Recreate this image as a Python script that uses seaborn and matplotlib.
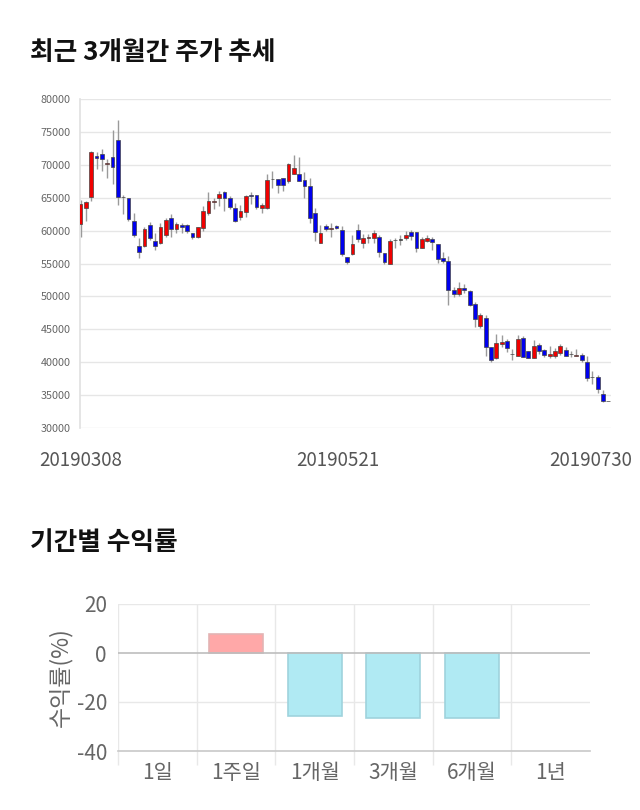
import numpy as np
import pandas as pd
import matplotlib
matplotlib.use("Agg")
import matplotlib.pyplot as plt
from matplotlib.ticker import FixedLocator
from matplotlib.transforms import ScaledTranslation
import seaborn as sns

# ---------------- data ----------------
dates_labels = ["20190308", "20190521", "20190730"]
label_idx = [0, 49, 99]

opens = [61000, 63500, 65100, 71400, 71700, 70100, 71200, 73700, 65100, 64900,
         61400, 57700, 57700, 60800, 58400, 58100, 59400, 61900, 60300, 60800,
         60800, 59700, 59000, 60400, 62700, 64300, 65000, 65800, 65000, 63400,
         62000, 62900, 65450, 65450, 63400, 63400, 67800, 67900, 68000, 67550,
         68600, 68600, 67750, 66850, 62650, 58150, 60700, 60250, 60700, 60150,
         55950, 56450, 60050, 58150, 58800, 58900, 59000, 56650, 55000, 58500,
         58600, 58900, 59850, 59750, 57300, 58450, 58750, 57900, 55800, 55400,
         51000, 50350, 51250, 50850, 48800, 45500, 46750, 42300, 40600, 42750,
         43200, 41300, 41000, 43700, 41750, 40650, 42550, 41850, 41000, 41000,
         41450, 41850, 41250, 41000, 41150, 40000, 37700, 37800, 35150, 34100]
highs = [64700, 64500, 72100, 71950, 72350, 70900, 75250, 76800, 65400, 65000,
         62750, 58850, 60600, 61250, 59600, 61100, 61850, 62550, 61250, 61100,
         61000, 59700, 60600, 63750, 65850, 64950, 65950, 65950, 65200, 64200,
         63950, 65450, 65900, 65450, 64200, 68600, 69050, 67900, 68000, 70300,
         71450, 71250, 68900, 68000, 63450, 60900, 61000, 61100, 60900, 60700,
         55950, 59350, 61000, 59500, 59500, 60100, 59300, 56650, 58700, 58900,
         59300, 60000, 60100, 59750, 59050, 59300, 59050, 58000, 56800, 56200,
         51500, 52200, 51950, 51000, 49200, 47550, 47150, 42300, 44250, 44150,
         43450, 42050, 44100, 43950, 41750, 43350, 42850, 42050, 42450, 42150,
         42750, 42300, 41650, 42000, 41450, 40900, 38600, 38000, 35800, 34100]
lows = [59000, 61400, 64450, 69400, 69000, 68000, 67150, 63900, 62500, 61500,
        59100, 55900, 57550, 58550, 57050, 57950, 59100, 59100, 59700, 59700,
        59600, 58700, 58850, 60000, 62400, 63250, 63800, 63050, 63250, 61250,
        61650, 62050, 64100, 63350, 62750, 63250, 66500, 65700, 65950, 67250,
        68600, 67500, 64950, 61100, 58450, 58150, 60000, 59100, 60300, 56100,
        54850, 56300, 58300, 57400, 58050, 58150, 56000, 54900, 55000, 57350,
        57800, 58550, 58550, 56800, 57300, 58200, 57000, 55150, 55150, 48700,
        49950, 50050, 50550, 48550, 45400, 45250, 41000, 40050, 40500, 42300,
        41550, 40300, 40900, 40800, 40600, 40600, 41300, 40800, 40700, 40700,
        41100, 40900, 40850, 40900, 40050, 37200, 36700, 35300, 33950, 34100]
closes = [64000, 64300, 72000, 71000, 70900, 70300, 69700, 65100, 65100, 61700,
          59400, 56800, 60200, 58900, 57700, 60500, 61600, 60300, 61000, 60600,
          59900, 59000, 60500, 63000, 64500, 64500, 65500, 64950, 63600, 61400,
          63000, 65300, 65300, 63600, 63950, 67750, 67800, 66950, 66950, 70050,
          69550, 67550, 66750, 61950, 59850, 59600, 60300, 60400, 60450, 56450,
          55200, 57950, 58700, 58900, 59100, 59600, 56700, 55250, 58400, 58600,
          58600, 59300, 59250, 57300, 58750, 58900, 58250, 55650, 55350, 51000,
          50350, 51250, 50950, 48700, 46500, 47150, 42300, 40300, 42850, 43050,
          42200, 41200, 43600, 40800, 40600, 42450, 41750, 41100, 41200, 41750,
          42500, 40900, 41250, 41150, 40300, 37650, 37700, 36000, 34100, 34100]

periods = ["1일", "1주일", "1개월", "3개월", "6개월", "1년"]
returns = [0.0, 7.9, -25.8, -26.6, -26.7, 0.0]

# ---------------- style ----------------
sns.set_theme(style="white")
plt.rcParams["font.family"] = ["Noto Sans CJK KR", "DejaVu Sans"]
plt.rcParams["axes.unicode_minus"] = False

W, H = 640, 810
fig = plt.figure(figsize=(W / 100, H / 100), dpi=100)

def ax_rect(l, t, r, b):
    return [l / W, 1 - b / H, (r - l) / W, (b - t) / H]

fig.text(30 / W, 1 - 52 / H, "최근 3개월간 주가 추세", fontsize=18.5, fontweight="bold",
         color="#111111", ha="left", va="center")
fig.text(30 / W, 1 - 543 / H, "기간별 수익률", fontsize=18.5, fontweight="bold",
         color="#111111", ha="left", va="center")

# ---------------- candlestick ----------------
ax = fig.add_axes(ax_rect(79.5, 99, 610.5, 428))
df = pd.DataFrame({"o": opens, "h": highs, "l": lows, "c": closes})
df["i"] = np.arange(len(df))

up_col, dn_col, flat_col = "#F00000", "#0000EE", "#333333"
cols = [up_col if c > o else (dn_col if c < o else flat_col) for o, c in zip(df.o, df.c)]

ax.vlines(df.i, df.l, df.h, color="#9a9a9a", linewidth=1.0, zorder=2)
bottoms = np.minimum(df.o, df.c)
heights = np.maximum(np.abs(df.c - df.o), 60)
ax.bar(df.i, heights, bottom=bottoms, width=0.72, color=cols, edgecolor="#444444",
       linewidth=0.5, zorder=3)

ax.set_xlim(-0.19, 99.4)
ax.set_ylim(30000, 80000)
ax.set_yticks(np.arange(30000, 80001, 5000))
ax.set_yticklabels([str(v) for v in range(30000, 80001, 5000)])
ax.grid(axis="y", color="#e6e6e6", linewidth=1)
ax.set_axisbelow(True)
for s in ["top", "right", "bottom"]:
    ax.spines[s].set_visible(False)
ax.spines["left"].set_color("#e0e0e0")
ax.spines["left"].set_linewidth(1.2)
ax.tick_params(axis="y", length=0, pad=6.5, labelsize=7.8, labelcolor="#666666")
ax.set_xticks(label_idx)
ax.set_xticklabels(dates_labels)
ax.tick_params(axis="x", length=0, pad=16, labelsize=13.5, labelcolor="#555555")
lbls = ax.get_xticklabels()
lbls[-1].set_transform(lbls[-1].get_transform() + ScaledTranslation(-18 / 100, 0, fig.dpi_scale_trans))
lbls[1].set_transform(lbls[1].get_transform() + ScaledTranslation(-4 / 100, 0, fig.dpi_scale_trans))

# ---------------- returns bar chart ----------------
ax2 = fig.add_axes(ax_rect(118, 604, 590, 751))
rdf = pd.DataFrame({"period": periods, "ret": returns})
pal = {p: ("#FFA8A8" if v > 0 else "#B0EAF3") for p, v in zip(periods, returns)}
sns.barplot(data=rdf, x="period", y="ret", hue="period", palette=pal, legend=False,
            width=0.69, ax=ax2, saturation=1, zorder=3)
edge = {"pos": "#e3b4b4", "neg": "#9fd3dd"}
for p, v in zip(ax2.patches, returns):
    if v == 0:
        p.set_visible(False)
    else:
        p.set_edgecolor(edge["pos"] if v > 0 else edge["neg"])
        p.set_linewidth(1.2)

ax2.set_xlim(-0.5, 5.5)
ax2.set_ylim(-40, 20)
ax2.set_yticks([-40, -20, 0, 20])
ax2.set_yticklabels(["-40", "-20", "0", "20"])
ax2.axhline(0, color="#bdbdbd", linewidth=1.2, zorder=4)
ax2.axhline(20, color="#e8e8e8", linewidth=1, zorder=1)
ax2.axhline(-20, color="#e8e8e8", linewidth=1, zorder=1)
for xb in np.arange(-0.5, 5.0, 1.0):
    ax2.axvline(xb, color="#e8e8e8", linewidth=1, zorder=1)
ax2.xaxis.set_minor_locator(FixedLocator(np.arange(-0.5, 5.0, 1.0)))
ax2.tick_params(axis="x", which="minor", length=10, color="#e8e8e8", width=1, bottom=True)
ax2.tick_params(axis="x", which="major", length=0, pad=8, labelsize=15, labelcolor="#666666")
ax2.tick_params(axis="y", length=0, pad=8, labelsize=15, labelcolor="#666666")
for s in ["top", "right", "left"]:
    ax2.spines[s].set_visible(False)
ax2.spines["bottom"].set_color("#c8c8c8")
ax2.spines["bottom"].set_linewidth(1.2)
ax2.set_xlabel("")
ax2.set_ylabel("수익률(%)", fontsize=16.5, color="#666666", labelpad=3)
ax2.grid(False)

fig.savefig("out.png", dpi=100)
